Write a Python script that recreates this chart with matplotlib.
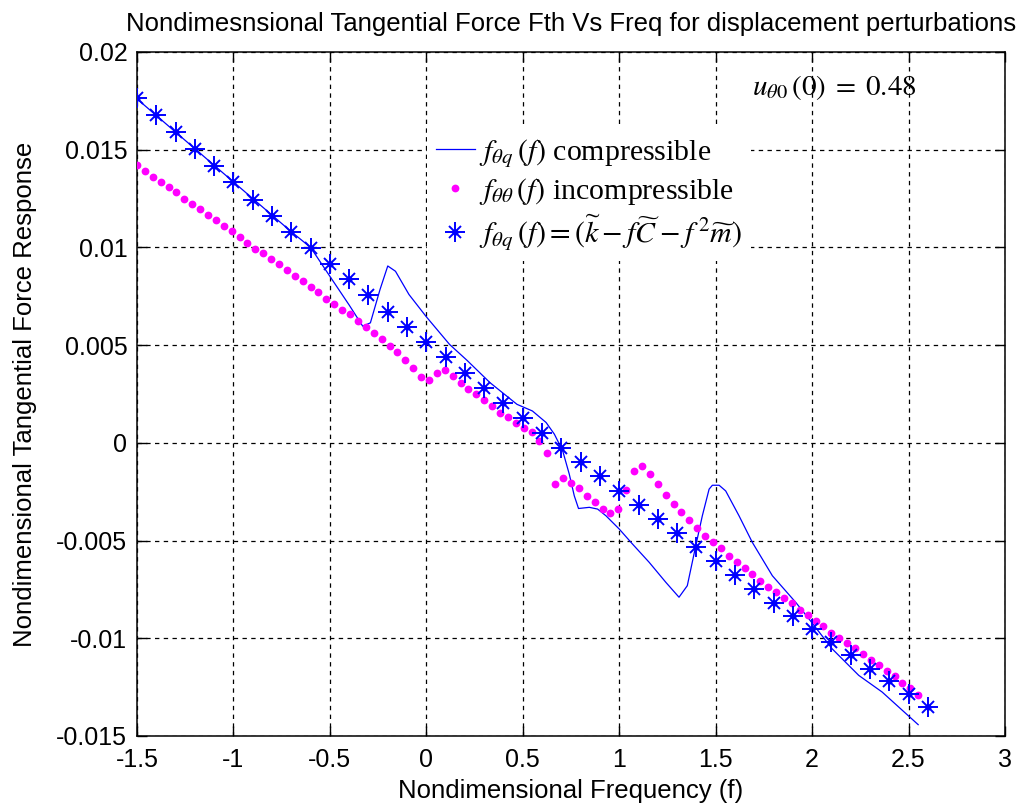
import numpy as np
import matplotlib
matplotlib.use('Agg')
import matplotlib.pyplot as plt
from matplotlib.legend_handler import HandlerTuple

plt.rcParams['mathtext.fontset'] = 'stix'
plt.rcParams['font.family'] = ['Liberation Sans', 'DejaVu Sans']

# ---------------- data ----------------
# compressible response (solid blue line), traced points
comp_f = [-1.5, -1.0, -0.7, -0.6, -0.5, -0.4, -0.33, -0.29, -0.24, -0.20, -0.16,
          -0.09, 0.0, 0.12, 0.21, 0.33, 0.47, 0.55, 0.621, 0.664, 0.707, 0.741,
          0.767, 0.789, 0.845, 0.888, 0.931, 1.0, 1.069, 1.155, 1.242, 1.31,
          1.353, 1.397, 1.431, 1.466, 1.483, 1.518, 1.552, 1.621, 1.69, 1.794,
          1.915, 1.983, 2.104, 2.242, 2.363, 2.55]
comp_y = [0.0176, 0.01335, 0.0108, 0.0100, 0.00852, 0.00705, 0.00597, 0.00614,
          0.00785, 0.00905, 0.00878, 0.00759, 0.00645, 0.00504, 0.00423, 0.00308,
          0.00197, 0.00163, 0.00104, 0.00044, -0.00041, -0.0016, -0.00271,
          -0.00336, -0.0033, -0.00339, -0.00373, -0.00441, -0.00518, -0.00611,
          -0.00714, -0.0079, -0.00731, -0.00526, -0.00373, -0.00237, -0.00217,
          -0.00217, -0.00246, -0.00373, -0.00509, -0.0068, -0.00816, -0.009,
          -0.01054, -0.0119, -0.01275, -0.01442]

# incompressible response (magenta dots), 100 samples from -1.5 to 2.55
incomp_f = np.linspace(-1.5, 2.55, 100)
incomp_y = [0.01423, 0.01389, 0.0136, 0.01333, 0.01309, 0.01282, 0.01248, 0.01222,
            0.01197, 0.01168, 0.01139, 0.01108, 0.01086, 0.01054, 0.01023, 0.00994,
            0.00969, 0.00941, 0.00917, 0.00883, 0.00852, 0.0083, 0.00798, 0.00771,
            0.00737, 0.00713, 0.00679, 0.00657,
            0.00623, 0.00594, 0.00563, 0.00533, 0.00495, 0.00464, 0.00423, 0.00381,
            0.00339, 0.0032, 0.00359, 0.00371, 0.00342, 0.00308, 0.00277, 0.00248,
            0.00218, 0.00188, 0.00155, 0.00132, 0.001, 0.00078, 0.00053, 0.0001,
            -0.0005,
            -0.00211, -0.00182, -0.00203, -0.00233, -0.00274, -0.00305, -0.00336,
            -0.0036, -0.00336, -0.00242, -0.00144, -0.00118, -0.0016, -0.00211,
            -0.00268, -0.00314, -0.00353, -0.00395, -0.00438, -0.00476, -0.00509,
            -0.0054, -0.00578, -0.00611, -0.0064, -0.00671,
            -0.00705, -0.00736, -0.00765, -0.00794, -0.00819, -0.00853, -0.00879,
            -0.0091, -0.00938, -0.00972, -0.01, -0.01025, -0.01051, -0.01083,
            -0.01109, -0.01139, -0.0117, -0.01194, -0.01228, -0.01253, -0.01288]

# equivalent model k - fC - f^2 m (blue asterisks)
model_f = np.round(np.arange(-1.5, 2.65, 0.1), 2)
model_y = [0.01767, 0.01675, 0.0159, 0.01503, 0.01419, 0.01335, 0.01244, 0.01162,
           0.01079, 0.00997, 0.00916, 0.00836, 0.00754, 0.00671, 0.00592, 0.00516,
           0.00439, 0.00356, 0.00282, 0.00206, 0.00129, 0.00049, -0.00024, -0.00096,
           -0.00172, -0.00247, -0.00317, -0.0039, -0.00462, -0.00535, -0.00606,
           -0.00675, -0.00748, -0.00819, -0.00884, -0.00952, -0.0102, -0.01088,
           -0.01156, -0.01221, -0.01284, -0.01352]

x_ticks = [-1.5, -1, -0.5, 0, 0.5, 1, 1.5, 2, 2.5, 3]
x_ticklabels = ['-1.5', '-1', '-0.5', '0', '0.5', '1', '1.5', '2', '2.5', '3']
y_ticks = [-0.015, -0.01, -0.005, 0, 0.005, 0.01, 0.015, 0.02]
y_ticklabels = ['-0.015', '-0.01', '-0.005', '0', '0.005', '0.01', '0.015', '0.02']

title = 'Nondimesnsional Tangential Force Fth Vs Freq for displacement perturbations'
xlabel = 'Nondimensional Frequency (f)'
ylabel = 'Nondimensional Tangential Force Response'
leg_labels = [r'$f_{\theta q}\,(f)$ compressible',
              r'$f_{\theta\theta}\,(f)$ incompressible',
              r'$f_{\theta q}\,(f) = (\widetilde{k} - f\widetilde{C} - f^{\,2}\widetilde{m})$']
annot = r'$u_{\theta 0}\,(0)\; =\; 0.48$'

# ---------------- figure ----------------
fig = plt.figure(figsize=(10.21, 8.11), dpi=100)
ax = fig.add_axes([0.1342, 0.0925, 0.8501, 0.8434])

blue = '#0000FF'
mag = '#FF00FF'

h1, = ax.plot(comp_f, comp_y, color=blue, lw=0.9, zorder=3)
h2, = ax.plot(incomp_f, incomp_y, ls='none', marker='o', ms=5.6, color=mag,
              mec='none', zorder=4)
h3a, = ax.plot(model_f, model_y, ls='none', marker='+', ms=14, mew=1.4, color=blue, zorder=5)
h3b, = ax.plot(model_f, model_y, ls='none', marker='x', ms=8.5, mew=1.4, color=blue, zorder=5)
h3c, = ax.plot(model_f, model_y, ls='none', marker='o', ms=4.5, mec='none', color=blue, zorder=5)

ax.set_xlim(-1.5, 3)
ax.set_ylim(-0.015, 0.02)
ax.set_xticks(x_ticks)
ax.set_xticklabels(x_ticklabels)
ax.set_yticks(y_ticks)
ax.set_yticklabels(y_ticklabels)

ax.set_axisbelow(True)
ax.grid(True, color='k', ls=(0, (3.5, 3.5)), lw=0.9)
ax.tick_params(direction='in', top=True, right=True, length=7, width=1,
               labelsize=18, pad=7, colors='k')
ax.tick_params(axis='x', pad=9)
for s in ax.spines.values():
    s.set_linewidth(1.1)
    s.set_color('k')

ax.set_title(title, fontsize=18.5, pad=15)
ax.set_xlabel(xlabel, fontsize=18.5, labelpad=5)
ax.set_ylabel(ylabel, fontsize=18.5, labelpad=14)

leg = ax.legend([h1, h2, (h3a, h3b, h3c)], leg_labels,
                handler_map={tuple: HandlerTuple(ndivide=1, pad=0)},
                loc='upper left', bbox_to_anchor=(427 / 1021, 1 - 128 / 811),
                bbox_transform=fig.transFigure, frameon=True, fancybox=False,
                facecolor='white', edgecolor='none', framealpha=1,
                prop={'family': 'Liberation Serif', 'size': 21.5},
                handlelength=1.3, handletextpad=0.15, labelspacing=0.2,
                borderpad=0.3, borderaxespad=0)

ax.text(1.687, 0.0182, annot, fontsize=21, ha='left', va='center',
        family='Liberation Serif')

fig.savefig('out.png', dpi=100)
